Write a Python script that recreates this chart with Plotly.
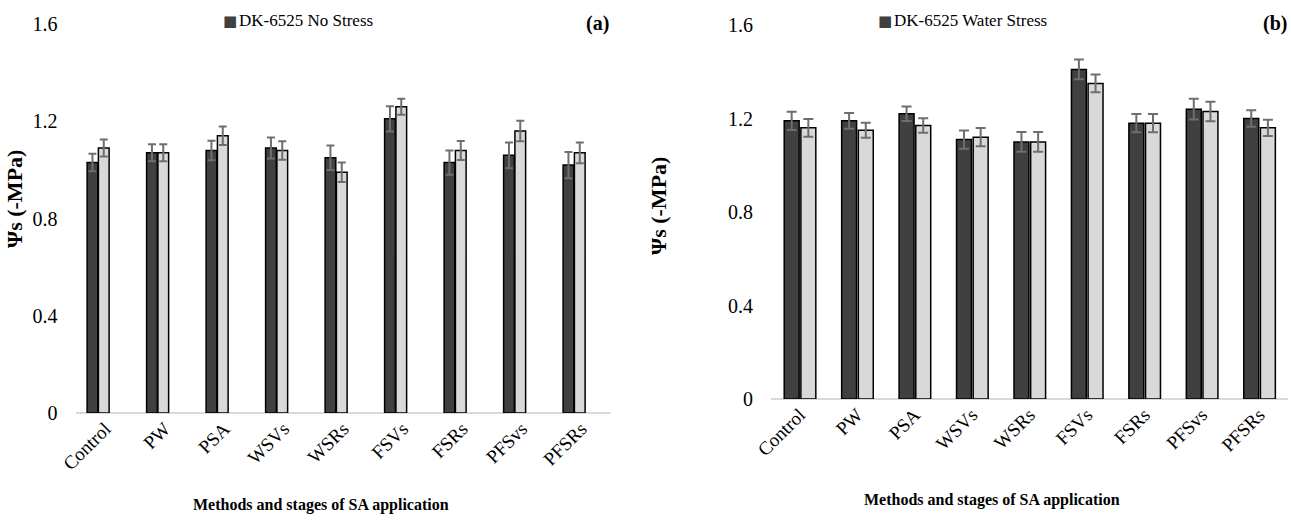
import plotly.graph_objects as go

categories = ["Control", "PW", "PSA", "WSVs", "WSRs", "FSVs", "FSRs", "PFSvs", "PFSRs"]

# Panel (a): DK-6525 No Stress
a_dark = [1.03, 1.07, 1.08, 1.09, 1.05, 1.21, 1.03, 1.06, 1.02]
a_dark_err = [0.036, 0.035, 0.040, 0.043, 0.050, 0.052, 0.050, 0.053, 0.054]
a_light = [1.09, 1.07, 1.14, 1.08, 0.99, 1.26, 1.08, 1.16, 1.07]
a_light_err = [0.035, 0.035, 0.038, 0.038, 0.040, 0.033, 0.039, 0.042, 0.043]

# Panel (b): DK-6525 Water Stress
b_dark = [1.19, 1.19, 1.22, 1.11, 1.10, 1.41, 1.18, 1.24, 1.20]
b_dark_err = [0.039, 0.034, 0.031, 0.039, 0.042, 0.042, 0.039, 0.044, 0.035]
b_light = [1.16, 1.15, 1.17, 1.12, 1.10, 1.35, 1.18, 1.23, 1.16]
b_light_err = [0.038, 0.032, 0.031, 0.039, 0.042, 0.038, 0.039, 0.042, 0.035]

y_ticks = [0, 0.4, 0.8, 1.2, 1.6]
y_ticktext = ["0", "0.4", "0.8", "1.2", "1.6"]

FONT = "Liberation Serif"
DARK = "#404040"
LIGHT = "#d9d9d9"
ERR = "#6e6e6e"

fig = go.Figure()

def add_pair(dark, derr, light, lerr, xa, ya, name, d_off, l_off, w, capw):
    fig.add_trace(go.Bar(
        x=categories, y=dark, name=name, xaxis=xa, yaxis=ya,
        marker=dict(color=DARK, line=dict(color="#000000", width=1.5)),
        offset=d_off, width=w,
        error_y=dict(type="data", array=derr, visible=True, color=ERR, thickness=2, width=capw),
        showlegend=False,
    ))
    fig.add_trace(go.Bar(
        x=categories, y=light, name=name + " (2)", xaxis=xa, yaxis=ya,
        marker=dict(color=LIGHT, line=dict(color="#000000", width=1.5)),
        offset=l_off, width=w,
        error_y=dict(type="data", array=lerr, visible=True, color=ERR, thickness=2, width=capw),
        showlegend=False,
    ))

add_pair(a_dark, a_dark_err, a_light, a_light_err, "x", "y", "DK-6525 No Stress",
         -0.305, -0.115, 0.18, 4)
add_pair(b_dark, b_dark_err, b_light, b_light_err, "x2", "y2", "DK-6525 Water Stress",
         -0.27, 0.02, 0.26, 5)

W, H = 1291, 531
xa_dom = [75.5 / W, 611 / W]
xb_dom = [771 / W, 1288 / W]
ya_dom = [(H - 413) / H, (H - 24) / H]
yb_dom = [(H - 399) / H, (H - 25) / H]

xcommon = dict(
    type="category", tickangle=-45, showgrid=False, zeroline=False, automargin=False,
    showline=False, ticks="", tickfont=dict(family=FONT, size=19, color="#000"),
)
ycommon = dict(
    range=[0, 1.6], tickvals=y_ticks, ticktext=y_ticktext, showgrid=False, automargin=False,
    zeroline=True, zerolinecolor="#d9d9d9", zerolinewidth=2, showline=False,
    ticks="", ticklabelstandoff=17, tickfont=dict(family=FONT, size=20, color="#000"),
)

def legend_entry(name, x_text):
    return [
        dict(text="■", x=x_text / W, y=1 - 21 / H, xref="paper", yref="paper",
             xanchor="right", yanchor="middle", showarrow=False, borderpad=0,
             font=dict(family="DejaVu Sans", size=15, color=DARK)),
        dict(text=name, x=x_text / W, y=1 - 21 / H, xref="paper", yref="paper",
             xanchor="left", yanchor="middle", showarrow=False, borderpad=0,
             font=dict(family=FONT, size=17, color="#000")),
    ]

annotations = []
annotations += legend_entry("DK-6525 No Stress", 238)
annotations += legend_entry("DK-6525 Water Stress", 893)
annotations += [
    dict(text="<b>(a)</b>", x=611 / W, y=1 - 23 / H, xref="paper", yref="paper",
         xanchor="right", yanchor="middle", showarrow=False,
         font=dict(family=FONT, size=20, color="#000")),
    dict(text="<b>(b)</b>", x=1289 / W, y=1 - 23 / H, xref="paper", yref="paper",
         xanchor="right", yanchor="middle", showarrow=False,
         font=dict(family=FONT, size=20, color="#000")),
    dict(text="<b>Methods and stages of SA application</b>", x=321 / W, y=1 - 505 / H,
         xref="paper", yref="paper", xanchor="center", yanchor="middle", showarrow=False,
         font=dict(family=FONT, size=16, color="#000")),
    dict(text="<b>Methods and stages of SA application</b>", x=992 / W, y=1 - 500 / H,
         xref="paper", yref="paper", xanchor="center", yanchor="middle", showarrow=False,
         font=dict(family=FONT, size=16, color="#000")),
    dict(text="<b>Ψs (-MPa)</b>", x=14 / W, y=1 - 199 / H, xref="paper", yref="paper",
         xanchor="center", yanchor="middle", textangle=-90, showarrow=False,
         font=dict(family=FONT, size=22, color="#000")),
    dict(text="<b>Ψs (-MPa)</b>", x=658 / W, y=1 - 206 / H, xref="paper", yref="paper",
         xanchor="center", yanchor="middle", textangle=-90, showarrow=False,
         font=dict(family=FONT, size=22, color="#000")),
]

fig.update_layout(
    width=W, height=H, margin=dict(l=0, r=0, t=0, b=0, autoexpand=False),
    paper_bgcolor="white", plot_bgcolor="white",
    barmode="overlay", showlegend=False,
    font=dict(family=FONT, color="#000"),
    xaxis=dict(domain=xa_dom, anchor="y", **xcommon),
    yaxis=dict(domain=ya_dom, anchor="x", **ycommon),
    xaxis2=dict(domain=xb_dom, anchor="y2", **xcommon),
    yaxis2=dict(domain=yb_dom, anchor="x2", **ycommon),
    annotations=annotations,
)

fig.write_html("out.html", config={"displayModeBar": False},
               post_script="document.body.style.margin='0';document.body.style.overflow='hidden';")
